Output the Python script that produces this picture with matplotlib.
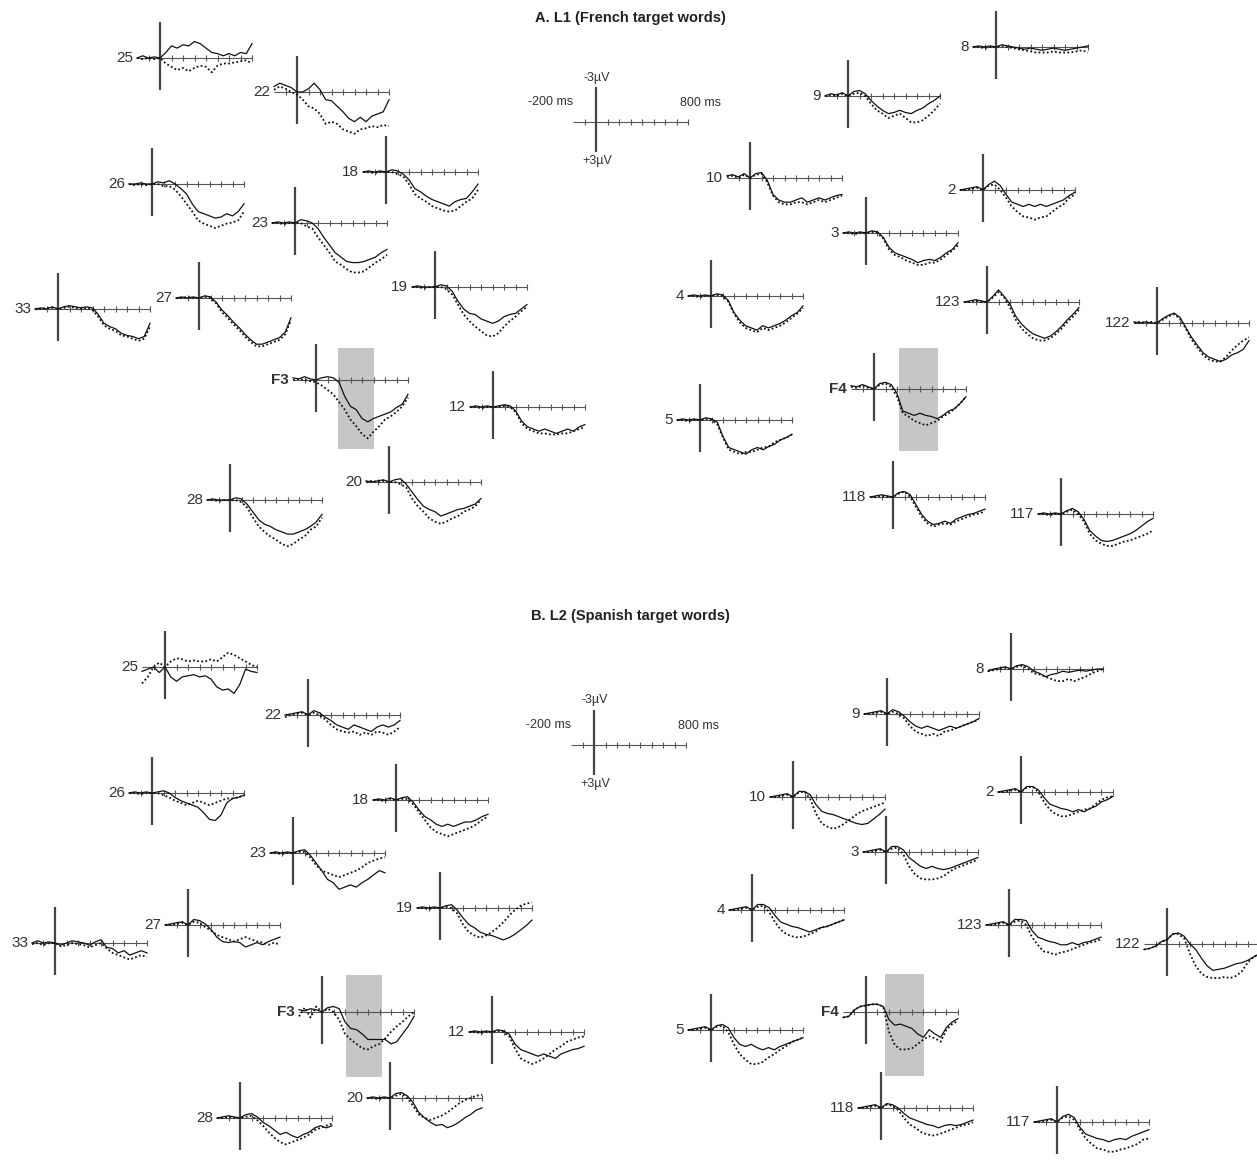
import matplotlib
matplotlib.use('Agg')
import matplotlib.pyplot as plt
from matplotlib.patches import Rectangle

plt.rcParams['font.family'] = ['Liberation Sans', 'DejaVu Sans']

# time axis of every trace (ms)
times = [-200, -150, -100, -50, 0, 50, 100, 150, 200, 250, 300, 350, 400,
         450, 500, 550, 600, 650, 700, 750, 800]
ticks_ms = [-100, 100, 200, 300, 400, 500, 600, 700, 800]

# amplitudes in microvolts (negative plotted up), solid / dotted condition
# A. L1 (French target words)
l1_solid = {
    '25': [0, -0.2, 0, -0.1, 0, -0.5, -1.1, -0.9, -1.2, -1.1, -1.5, -1.3, -0.9, -0.5, -0.4, -0.2, -0.4, -0.2, -0.5, -0.4, -1.3],
    '22': [-0.5, -0.8, -0.6, -0.4, 0, 0, -0.3, -0.8, -0.2, 0.7, 0.8, 1.3, 1.8, 2.4, 2.7, 2.3, 2.7, 2.2, 2.0, 1.8, 0.7],
    '26': [0, 0, -0.1, 0, 0, -0.2, -0.1, -0.3, 0, 0.4, 0.9, 1.8, 2.5, 2.7, 2.9, 3.1, 3.0, 2.7, 2.9, 2.5, 1.8],
    '18': [0, -0.1, 0, -0.1, 0, -0.2, -0.1, 0.2, 0.7, 1.5, 1.8, 2.2, 2.5, 2.7, 2.9, 3.1, 2.7, 2.5, 2.4, 1.8, 1.1],
    '23': [0, -0.1, 0, -0.1, 0, -0.3, -0.2, 0, 0.5, 1.3, 2.0, 2.7, 3.1, 3.5, 3.6, 3.6, 3.5, 3.3, 3.1, 2.7, 2.4],
    '33': [0, -0.1, 0, -0.2, 0, -0.2, -0.3, -0.2, -0.1, -0.2, -0.1, 0.5, 1.3, 1.6, 1.8, 2.2, 2.4, 2.5, 2.7, 2.5, 1.3],
    '27': [0, -0.1, 0, -0.1, 0, -0.2, -0.1, 0.4, 1.1, 1.6, 2.2, 2.7, 3.3, 3.8, 4.2, 4.2, 4.0, 3.8, 3.6, 3.1, 1.8],
    '19': [0, -0.1, 0, 0, 0, -0.2, -0.1, 0.4, 1.3, 2.0, 2.4, 2.5, 2.9, 3.1, 3.3, 3.1, 2.7, 2.5, 2.4, 2.0, 1.6],
    'F3': [-0.2, -0.1, -0.3, -0.1, 0, -0.2, -0.3, -0.2, 0.2, 1.5, 2.4, 2.7, 3.5, 3.8, 3.5, 3.3, 3.1, 2.9, 2.5, 2.2, 1.3],
    '12': [0, -0.1, 0, -0.1, 0, -0.1, -0.2, -0.1, 0.4, 1.3, 1.8, 2.0, 2.2, 2.0, 2.2, 2.4, 2.2, 2.0, 2.2, 1.8, 1.6],
    '28': [0, -0.1, 0, 0, 0, -0.2, -0.1, 0.4, 1.1, 1.8, 2.2, 2.4, 2.7, 2.9, 3.1, 3.1, 2.9, 2.7, 2.4, 2.0, 1.3],
    '20': [-0.1, 0, -0.1, -0.2, 0, -0.2, -0.3, 0.2, 0.9, 1.6, 2.2, 2.5, 2.7, 3.1, 2.9, 2.7, 2.5, 2.4, 2.2, 2.0, 1.5],
    '8': [0, -0.1, 0, -0.1, 0, -0.2, -0.1, 0, 0.1, 0.2, 0.1, 0.2, 0.3, 0.2, 0.1, 0.2, 0.3, 0.2, 0.1, 0, -0.1],
    '9': [0, -0.2, -0.1, -0.3, 0, -0.4, -0.5, -0.2, 0.4, 0.9, 1.3, 1.6, 1.5, 1.3, 1.5, 1.6, 1.3, 1.1, 0.7, 0.4, 0],
    '10': [-0.2, -0.3, -0.1, -0.4, 0, -0.4, -0.5, 0.2, 1.5, 2.0, 2.2, 2.2, 2.0, 1.8, 2.2, 2.0, 1.8, 2.0, 1.8, 1.6, 1.5],
    '2': [0, -0.1, -0.2, -0.3, 0, -0.5, -0.8, -0.4, 0.4, 1.1, 1.3, 1.5, 1.3, 1.5, 1.3, 1.5, 1.3, 1.1, 0.9, 0.5, 0.2],
    '3': [0, -0.1, 0, -0.1, 0, -0.2, -0.1, 0.4, 1.3, 1.8, 2.0, 2.2, 2.4, 2.7, 2.5, 2.4, 2.5, 2.2, 1.8, 1.5, 0.9],
    '4': [0, -0.1, 0, -0.1, 0, -0.2, -0.1, 0.4, 1.5, 2.2, 2.7, 2.9, 3.1, 2.7, 2.9, 2.7, 2.5, 2.2, 1.8, 1.5, 0.9],
    '123': [0, -0.1, -0.2, -0.1, 0, -0.5, -1.1, -0.5, 0.2, 1.3, 2.0, 2.5, 2.9, 3.1, 3.3, 3.1, 2.7, 2.2, 1.6, 1.1, 0.5],
    '122': [-0.1, 0, -0.1, 0, 0, -0.4, -0.7, -0.9, -0.5, 0.4, 1.3, 2.0, 2.7, 3.1, 3.3, 3.5, 3.3, 2.9, 2.7, 2.4, 1.6],
    'F4': [-0.3, -0.2, -0.4, -0.2, 0, -0.5, -0.6, -0.4, 0.4, 2.0, 2.2, 2.4, 2.2, 2.4, 2.5, 2.7, 2.4, 2.0, 1.8, 1.3, 0.7],
    '5': [0, -0.1, 0, -0.1, 0, -0.2, -0.1, 0.2, 1.5, 2.5, 2.7, 2.9, 3.1, 2.7, 2.5, 2.7, 2.4, 2.2, 1.8, 1.6, 1.3],
    '118': [0, -0.1, -0.2, -0.1, 0, -0.4, -0.5, -0.2, 0.7, 1.6, 2.2, 2.5, 2.4, 2.2, 2.4, 2.0, 1.8, 1.6, 1.5, 1.3, 1.1],
    '117': [0, -0.1, 0, -0.1, 0, -0.3, -0.5, -0.2, 0.5, 1.5, 2.0, 2.4, 2.5, 2.4, 2.2, 2.0, 1.8, 1.5, 1.1, 0.7, 0.4],
}
l1_dotted = {
    '25': [0, 0.1, 0, 0.1, 0, 0.5, 0.8, 1.1, 0.9, 1.2, 0.9, 0.7, 0.8, 1.3, 0.7, 0.5, 0.5, 0.4, 0.3, 0.2, 0.5],
    '22': [-0.2, -0.5, -0.3, 0, 0.2, 0.7, 1.3, 1.5, 2.0, 2.9, 2.7, 2.9, 3.4, 3.6, 3.8, 3.4, 3.3, 3.1, 3.2, 3.0, 3.1],
    '26': [0, 0.1, 0, 0.1, 0, 0, 0.2, 0.2, 0.5, 1.1, 1.8, 2.5, 3.3, 3.6, 3.8, 4.0, 3.8, 3.6, 3.5, 3.3, 2.5],
    '18': [0, 0, 0.1, 0, 0, 0, 0.2, 0.4, 1.1, 2.0, 2.4, 2.7, 3.1, 3.3, 3.5, 3.6, 3.5, 3.1, 2.7, 2.4, 1.6],
    '23': [0, 0, 0.1, 0, 0, 0, 0.3, 0.5, 1.3, 2.0, 2.7, 3.5, 3.8, 4.2, 4.5, 4.5, 4.4, 4.0, 3.6, 3.3, 2.9],
    '33': [0, 0, -0.1, -0.1, 0, -0.1, -0.2, -0.1, 0, -0.1, 0.1, 0.7, 1.5, 1.8, 2.0, 2.4, 2.5, 2.7, 2.9, 2.7, 1.6],
    '27': [0, 0, -0.1, 0, 0, -0.1, 0, 0.5, 1.3, 1.8, 2.4, 2.9, 3.5, 4.0, 4.4, 4.4, 4.2, 4.0, 3.8, 3.3, 2.0],
    '19': [0, 0, 0.1, 0, 0, 0, 0.2, 0.7, 1.6, 2.5, 3.1, 3.6, 4.0, 4.4, 4.5, 4.2, 3.6, 3.1, 2.7, 2.2, 1.8],
    'F3': [0, -0.1, 0, 0.1, 0.2, 0.5, 0.9, 1.3, 2.0, 2.7, 3.6, 4.2, 4.9, 5.3, 4.7, 4.2, 3.6, 3.3, 2.9, 2.4, 1.6],
    '12': [0, 0, 0.1, 0, 0, 0, -0.1, 0, 0.5, 1.5, 2.0, 2.2, 2.4, 2.4, 2.5, 2.5, 2.4, 2.4, 2.2, 2.0, 1.8],
    '28': [0, 0, 0.1, 0, 0, 0, 0.2, 0.7, 1.6, 2.4, 2.9, 3.3, 3.6, 4.0, 4.2, 4.0, 3.6, 3.3, 2.7, 2.4, 1.6],
    '20': [0, -0.1, 0, -0.1, 0, 0, 0.2, 0.5, 1.5, 2.2, 2.7, 3.3, 3.6, 3.8, 3.6, 3.3, 3.1, 2.7, 2.5, 2.2, 1.6],
    '8': [0, 0, 0.1, 0, 0, -0.1, 0, 0.1, 0.2, 0.3, 0.4, 0.5, 0.5, 0.5, 0.4, 0.5, 0.5, 0.5, 0.4, 0.3, 0.5],
    '9': [0, -0.1, 0, -0.2, 0, -0.2, -0.3, 0, 0.7, 1.3, 1.6, 2.0, 1.8, 1.6, 2.0, 2.4, 2.4, 2.2, 1.8, 1.3, 0.7],
    '10': [-0.1, -0.2, 0, -0.3, 0, -0.3, -0.4, 0.4, 1.6, 2.2, 2.4, 2.4, 2.2, 2.2, 2.4, 2.2, 2.0, 2.2, 2.0, 1.8, 1.6],
    '2': [0, 0, -0.1, -0.2, 0, -0.4, -0.5, 0, 0.7, 1.5, 2.0, 2.4, 2.5, 2.7, 2.5, 2.4, 2.0, 1.6, 1.3, 0.7, 0.4],
    '3': [0, 0, 0.1, 0, 0, -0.1, 0, 0.5, 1.5, 2.0, 2.2, 2.5, 2.7, 2.9, 2.9, 2.7, 2.7, 2.4, 2.0, 1.6, 1.1],
    '4': [0, 0, 0.1, 0, 0, -0.1, 0, 0.5, 1.6, 2.4, 2.9, 3.1, 3.3, 2.9, 3.1, 2.9, 2.7, 2.4, 2.0, 1.6, 1.1],
    '123': [0, 0, -0.1, 0, 0, -0.4, -0.9, -0.4, 0.5, 1.6, 2.4, 2.9, 3.3, 3.5, 3.5, 3.3, 2.9, 2.4, 1.8, 1.3, 0.7],
    '122': [0, -0.1, 0, -0.1, 0, -0.3, -0.6, -0.8, -0.4, 0.5, 1.5, 2.2, 2.9, 3.3, 3.5, 3.5, 3.1, 2.5, 2.0, 1.6, 1.3],
    'F4': [-0.2, -0.1, -0.3, -0.1, 0, -0.4, -0.5, -0.2, 0.7, 2.2, 2.5, 2.9, 3.1, 3.3, 3.1, 2.9, 2.5, 2.2, 1.8, 1.3, 0.7],
    '5': [0, 0, 0.1, 0, 0, -0.1, 0, 0.4, 1.6, 2.7, 2.9, 3.1, 2.9, 2.9, 2.7, 2.5, 2.4, 2.0, 1.8, 1.6, 1.3],
    '118': [0, 0, -0.1, 0, 0, -0.3, -0.5, 0, 0.9, 1.8, 2.4, 2.7, 2.5, 2.4, 2.5, 2.2, 2.0, 1.8, 1.6, 1.5, 1.3],
    '117': [0, 0, 0.1, 0, 0, -0.2, -0.4, 0, 0.7, 1.8, 2.4, 2.7, 2.9, 2.9, 2.7, 2.5, 2.4, 2.2, 2.0, 1.8, 1.5],
}

# B. L2 (Spanish target words)
l2_solid = {
    '25': [0.4, 0.2, 0, 0.5, 0, 0.9, 1.3, 0.9, 0.8, 0.7, 0.9, 0.8, 1.1, 1.8, 2.1, 2.0, 2.4, 1.6, 0.2, 0.4, 0.5],
    '22': [0, -0.1, -0.2, -0.3, 0, -0.4, -0.2, 0.2, 0.5, 0.9, 1.1, 1.3, 0.9, 1.1, 1.3, 1.5, 1.1, 0.9, 1.1, 0.9, 0.5],
    '26': [0, -0.1, 0, -0.1, 0, -0.1, -0.2, 0, 0.4, 0.7, 0.9, 1.1, 1.3, 1.8, 2.4, 2.5, 2.0, 0.9, 0.5, 0.4, 0.2],
    '18': [0, -0.1, 0, -0.2, 0, -0.2, -0.3, 0.2, 0.9, 1.5, 1.8, 2.2, 2.4, 2.2, 2.4, 2.2, 2.0, 2.0, 1.8, 1.5, 1.3],
    '23': [0, -0.1, 0, -0.1, 0, -0.2, -0.3, 0.2, 0.9, 1.6, 2.4, 2.7, 3.3, 3.1, 2.9, 3.1, 2.7, 2.4, 2.0, 1.6, 1.8],
    '33': [0, -0.2, 0, -0.1, 0, 0.2, 0, -0.2, -0.1, 0, 0.2, -0.1, -0.3, 0.4, 0.5, 0.9, 0.7, 1.1, 0.9, 0.7, 0.9],
    '27': [0, -0.1, -0.2, -0.3, 0, -0.5, -0.4, -0.1, 0.4, 1.1, 1.5, 1.6, 1.5, 1.6, 2.0, 1.8, 1.6, 1.8, 1.5, 1.3, 1.1],
    '19': [0, -0.1, 0, -0.1, 0, -0.2, -0.3, 0.2, 0.9, 1.5, 1.8, 2.2, 2.4, 2.5, 2.7, 2.9, 2.7, 2.4, 2.0, 1.6, 1.1],
    'F3': [-0.2, -0.1, -0.3, -0.2, 0, -0.4, -0.5, -0.3, 0.9, 1.5, 1.6, 2.0, 2.5, 2.5, 2.5, 2.5, 2.9, 2.7, 2.0, 1.3, 0.4],
    '12': [0, -0.1, 0, -0.1, 0, -0.2, -0.1, 0.2, 1.1, 1.6, 1.8, 2.0, 2.2, 2.0, 2.2, 2.4, 2.0, 1.8, 1.6, 1.5, 1.3],
    '28': [0, -0.1, -0.2, -0.1, 0, -0.3, -0.4, -0.1, 0.4, 0.7, 1.1, 1.5, 1.3, 1.6, 1.8, 1.5, 1.3, 0.9, 0.7, 0.9, 0.7],
    '20': [0, -0.1, 0, -0.1, 0, -0.4, -0.5, -0.2, 0.4, 1.3, 1.8, 2.2, 2.5, 2.4, 2.7, 2.5, 2.2, 1.8, 1.5, 1.1, 0.9],
    '8': [0.2, 0, -0.1, -0.2, 0, -0.3, -0.4, -0.2, 0.2, 0.4, 0.7, 0.5, 0.4, 0.2, 0.3, 0.2, 0.1, 0.2, 0.1, 0, 0],
    '9': [0, -0.1, -0.2, -0.3, 0, -0.4, -0.2, 0.2, 0.7, 1.1, 1.3, 1.1, 1.3, 1.5, 1.3, 1.1, 1.3, 1.1, 0.9, 0.7, 0.4],
    '10': [0, -0.1, -0.2, -0.3, 0, -0.5, -0.5, -0.2, 0.7, 1.3, 1.5, 1.6, 1.8, 2.0, 2.2, 2.4, 2.5, 2.4, 2.0, 1.6, 1.1],
    '2': [0, -0.1, -0.2, -0.3, 0, -0.5, -0.5, -0.2, 0.5, 1.1, 1.3, 1.5, 1.6, 1.8, 1.6, 1.8, 1.5, 1.3, 0.9, 0.7, 0.4],
    '3': [0, -0.1, -0.2, -0.3, 0, -0.5, -0.5, -0.2, 0.5, 0.9, 1.3, 1.5, 1.3, 1.5, 1.6, 1.5, 1.3, 1.1, 0.9, 0.7, 0.5],
    '4': [0, -0.1, -0.2, -0.3, 0, -0.5, -0.5, -0.2, 0.5, 1.1, 1.3, 1.5, 1.6, 1.8, 2.0, 1.8, 1.6, 1.5, 1.3, 1.1, 0.9],
    '123': [0, -0.1, -0.2, -0.3, 0, -0.5, -0.5, -0.4, 0.5, 1.1, 1.3, 1.5, 1.6, 1.8, 1.8, 1.6, 1.8, 1.6, 1.5, 1.3, 1.1],
    '122': [0.5, 0.4, 0.2, -0.2, -0.4, -0.9, -1.0, -0.7, 0, 0.5, 1.3, 2.0, 2.4, 2.3, 2.2, 2.0, 1.8, 1.7, 1.5, 1.2, 0.9],
    'F4': [0.5, 0.4, -0.2, -0.5, -0.6, -0.7, -0.7, -0.5, 0.7, 1.2, 1.1, 1.3, 1.5, 2.0, 2.3, 1.6, 2.0, 2.3, 1.4, 0.9, 0.6],
    '5': [0, -0.1, -0.2, -0.3, 0, -0.4, -0.5, -0.2, 0.7, 1.3, 1.5, 1.3, 1.6, 1.8, 1.6, 1.8, 1.5, 1.3, 1.1, 0.9, 0.7],
    '118': [0, -0.1, -0.2, -0.3, 0, -0.4, -0.3, 0, 0.5, 0.9, 1.1, 1.3, 1.5, 1.6, 1.8, 1.6, 1.5, 1.6, 1.5, 1.3, 1.1],
    '117': [0, -0.1, -0.2, -0.3, 0, -0.5, -0.7, -0.4, 0.5, 1.1, 1.3, 1.5, 1.6, 1.8, 1.6, 1.5, 1.6, 1.3, 1.1, 0.9, 0.7],
}
l2_dotted = {
    '25': [1.5, 0.9, 0, -0.4, 0, -0.5, -0.8, -0.7, -0.5, -0.6, -0.5, -0.5, -0.7, -0.5, -0.9, -1.3, -1.1, -0.8, -0.5, -0.2, 0],
    '22': [0.2, 0, -0.1, -0.2, 0, -0.2, 0, 0.4, 0.9, 1.3, 1.5, 1.6, 1.5, 1.8, 1.6, 1.8, 1.5, 1.6, 1.8, 1.5, 1.1],
    '26': [0, 0, 0.1, 0, 0, 0, 0.2, 0.4, 0.7, 0.9, 1.1, 0.9, 0.7, 0.9, 1.1, 0.9, 0.7, 0.5, 0.5, 0.4, 0.2],
    '18': [0, 0, 0.1, -0.1, 0, -0.1, -0.1, 0.4, 1.1, 1.8, 2.5, 2.9, 3.1, 3.3, 3.1, 2.9, 2.7, 2.5, 2.2, 1.8, 1.5],
    '23': [0, 0, 0.1, 0, 0, -0.1, -0.1, 0.4, 1.1, 1.6, 1.8, 2.0, 2.2, 2.0, 1.8, 1.6, 1.3, 0.9, 0.7, 0.5, 0.4],
    '33': [0.1, 0, 0.2, 0, 0, 0.3, 0.2, 0, 0.1, 0.2, 0.4, 0.2, 0, 0.5, 0.9, 1.1, 1.3, 1.5, 1.3, 1.1, 1.3],
    '27': [0, 0, -0.1, -0.2, 0, -0.3, -0.2, 0.2, 0.5, 0.9, 1.1, 1.3, 1.5, 1.3, 1.1, 1.3, 1.5, 1.6, 1.8, 1.6, 1.8],
    '19': [0, 0, 0.1, 0, 0, -0.1, 0, 0.5, 1.5, 2.2, 2.5, 2.7, 2.5, 2.2, 1.8, 1.3, 0.7, 0.2, -0.2, -0.4, -0.5],
    'F3': [0.4, -0.4, 0.5, -0.5, 0, -0.3, 0, 0.7, 2.0, 2.5, 2.9, 3.3, 3.4, 3.1, 2.9, 2.4, 1.8, 1.3, 0.9, 0.4, 0],
    '12': [0, 0, 0.1, 0, 0, -0.1, 0, 0.4, 1.5, 2.4, 2.7, 2.9, 2.7, 2.4, 2.0, 1.6, 1.3, 0.9, 0.7, 0.5, 0.4],
    '28': [0, 0, -0.1, 0, 0, -0.1, -0.2, 0.2, 0.7, 1.3, 1.8, 2.2, 2.4, 2.2, 2.0, 1.8, 1.5, 1.1, 0.9, 0.7, 0.5],
    '20': [0, 0, 0.1, 0, 0, -0.2, -0.4, 0, 0.7, 1.5, 1.8, 2.0, 1.8, 1.6, 1.3, 0.9, 0.5, 0.2, 0, -0.2, -0.3],
    '8': [0.2, 0.1, 0, -0.1, 0, -0.2, -0.3, 0, 0.4, 0.5, 0.7, 0.9, 1.1, 1.1, 0.9, 1.1, 0.9, 0.7, 0.4, 0.2, 0],
    '9': [0, 0, -0.1, -0.2, 0, -0.2, 0, 0.4, 1.1, 1.6, 1.8, 2.0, 1.8, 2.0, 1.6, 1.5, 1.3, 1.1, 0.9, 0.7, 0.5],
    '10': [0, 0, -0.1, -0.2, 0, -0.4, -0.5, 0.2, 1.5, 2.4, 2.7, 2.9, 2.7, 2.4, 2.0, 1.6, 1.3, 1.1, 0.9, 0.7, 0.5],
    '2': [0, 0, -0.1, -0.2, 0, -0.4, -0.5, 0, 0.9, 1.6, 2.0, 2.2, 2.2, 2.0, 1.8, 1.6, 1.5, 1.1, 0.7, 0.5, 0.4],
    '3': [0, 0, -0.1, -0.2, 0, -0.3, -0.4, 0.2, 1.3, 2.0, 2.4, 2.5, 2.5, 2.4, 2.2, 1.8, 1.5, 1.3, 1.1, 0.9, 0.7],
    '4': [0, 0, -0.1, -0.2, 0, -0.3, -0.4, 0.2, 1.1, 1.8, 2.2, 2.4, 2.5, 2.4, 2.2, 2.0, 1.6, 1.5, 1.3, 1.1, 0.9],
    '123': [0, 0, -0.1, -0.2, 0, -0.3, -0.4, 0, 1.1, 1.8, 2.4, 2.5, 2.7, 2.5, 2.4, 2.2, 2.0, 1.8, 1.6, 1.5, 1.3],
    '122': [0.5, 0.4, 0.2, -0.2, -0.4, -0.9, -0.9, -0.5, 0.9, 2.0, 2.7, 3.0, 3.1, 3.1, 3.0, 3.1, 2.9, 2.5, 1.7, 1.2, 0.9],
    'F4': [0.5, 0.4, -0.2, -0.5, -0.6, -0.7, -0.7, -0.5, 1.8, 3.0, 3.4, 3.4, 3.3, 2.9, 2.5, 2.2, 2.4, 2.7, 1.6, 1.1, 0.8],
    '5': [0, 0, -0.1, -0.2, 0, -0.3, -0.4, 0.2, 1.3, 2.2, 2.7, 3.1, 3.1, 2.9, 2.5, 2.2, 1.8, 1.5, 1.1, 0.9, 0.7],
    '118': [0, 0, -0.1, -0.2, 0, -0.3, -0.2, 0.2, 0.9, 1.5, 1.8, 2.2, 2.4, 2.5, 2.4, 2.2, 2.0, 1.8, 1.6, 1.5, 1.3],
    '117': [0, 0, -0.1, -0.2, 0, -0.4, -0.5, -0.2, 0.7, 1.5, 2.0, 2.4, 2.5, 2.7, 2.7, 2.5, 2.4, 2.2, 2.0, 1.6, 1.5],
}

# layout: pixel position of (0 ms, 0 uV) for each electrode
l1_pos = {'25': (160, 58), '22': (297, 92), '26': (152, 184), '18': (386, 172),
          '23': (295, 223), '33': (58, 309), '27': (199, 298), '19': (435, 287),
          'F3': (316, 380), '12': (493, 407), '28': (230, 500), '20': (389, 482),
          '8': (996, 47), '9': (848, 96), '10': (750, 178), '2': (983, 190),
          '3': (866, 233), '4': (711, 296), '123': (987, 302), '122': (1157, 323),
          'F4': (874, 389), '5': (700, 420), '118': (893, 497), '117': (1061, 514)}
l2_pos = {'25': (165, 667), '22': (308, 715), '26': (152, 793), '18': (396, 800),
          '23': (293, 853), '33': (55, 943), '27': (188, 925), '19': (440, 908),
          'F3': (322, 1012), '12': (492, 1032), '28': (240, 1118), '20': (390, 1098),
          '8': (1011, 669), '9': (887, 714), '10': (793, 797), '2': (1021, 792),
          '3': (886, 852), '4': (752, 910), '123': (1009, 925), '122': (1167, 944),
          'F4': (866, 1012), '5': (711, 1030), '118': (881, 1108), '117': (1057, 1122)}
# grey analysis window: t0, t1 (ms), top, bottom (uV)
l1_win = {'F3': (190, 505, -2.9, 6.3), 'F4': (220, 560, -3.7, 5.6)}
l2_win = {'F3': (210, 525, -3.4, 5.9), 'F4': (165, 505, -3.5, 5.8)}

W, H = 1257, 1170
XS = 0.115   # px per ms
YS = 11.0    # px per uV
LINE = '#111111'
AXC = '#555555'


def make_ax(fig, x0, y0):
    # axes spanning -260..860 ms and -5..8 uV, origin on pixel (x0, y0)
    left = (x0 - 260 * XS) / W
    bottom = 1 - (y0 + 8 * YS) / H
    ax = fig.add_axes([left, bottom, 1120 * XS / W, 13 * YS / H])
    ax.set_xlim(-260, 860)
    ax.set_ylim(8, -5)
    ax.axis('off')
    ax.patch.set_visible(False)
    return ax


def draw_frame(ax):
    ax.hlines(0, -200, 800, color=AXC, lw=0.8, zorder=2)
    ax.plot(ticks_ms, [0] * len(ticks_ms), ls='none', marker='|', ms=4,
            mew=0.8, color=AXC, zorder=2)
    ax.vlines(0, -3.3, 2.9, color='#444444', lw=1.6, zorder=2)


def draw_electrode(fig, name, pos, solid, dotted, win):
    ax = make_ax(fig, pos[0], pos[1])
    if name in win:
        t0, t1, top, bot = win[name]
        ax.add_patch(Rectangle((t0, top), t1 - t0, bot - top,
                               facecolor='#c6c6c6', edgecolor='none', zorder=0))
    draw_frame(ax)
    ax.plot(times, dotted, color=LINE, lw=1.3, ls=(0, (1, 1.3)), zorder=3)
    ax.plot(times, solid, color=LINE, lw=0.9, zorder=4)
    bold = 'bold' if name.startswith('F') else 'normal'
    ax.text(-235, 0, name, ha='right', va='center', fontsize=11,
            fontweight=bold, color='#333333')


def draw_scale(fig, x0, y0):
    ax = make_ax(fig, x0, y0)
    ax.hlines(0, -200, 800, color=AXC, lw=0.8)
    ax.plot(ticks_ms, [0] * len(ticks_ms), ls='none', marker='|', ms=4,
            mew=0.8, color=AXC)
    ax.vlines(0, -3.2, 2.7, color='#444444', lw=1.6)
    ax.text(10, -3.5, '-3\u00b5V', ha='center', va='bottom', fontsize=9, color='#333333')
    ax.text(10, 3.0, '+3\u00b5V', ha='center', va='top', fontsize=9, color='#333333')
    ax.text(-200, -1.8, '-200 ms', ha='right', va='center', fontsize=9, color='#333333')
    ax.text(730, -1.7, '800 ms', ha='left', va='center', fontsize=9, color='#333333')


fig = plt.figure(figsize=(W / 100, H / 100), dpi=100)
fig.patch.set_facecolor('white')

fig.text(630 / W, 1 - 18 / H, 'A. L1 (French target words)', ha='center',
         va='center', fontsize=10.5, fontweight='bold', color='#222222')
fig.text(630 / W, 1 - 616 / H, 'B. L2 (Spanish target words)', ha='center',
         va='center', fontsize=10.5, fontweight='bold', color='#222222')

for name in l1_pos:
    draw_electrode(fig, name, l1_pos[name], l1_solid[name], l1_dotted[name], l1_win)
for name in l2_pos:
    draw_electrode(fig, name, l2_pos[name], l2_solid[name], l2_dotted[name], l2_win)

draw_scale(fig, 596, 122)
draw_scale(fig, 594, 745)

fig.savefig('out.png', dpi=100)
